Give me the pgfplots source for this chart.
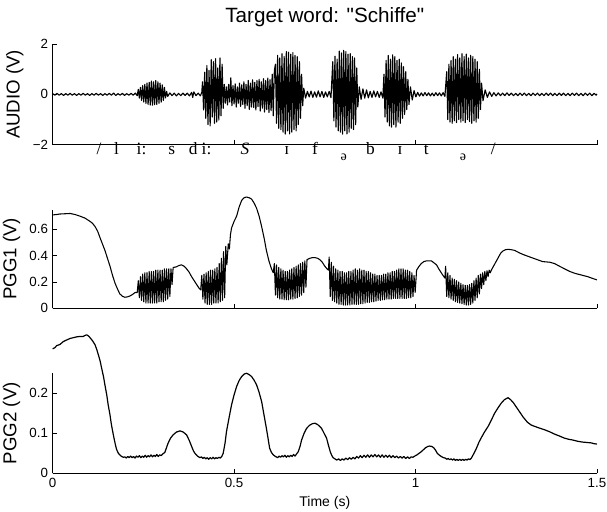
\documentclass[border=0pt]{standalone}
\usepackage{fontspec}
\setmainfont{Liberation Sans}
\newfontfamily\titlefont{Liberation Sans}
\newfontfamily\ipafont{Liberation Serif}
\usepackage{pgfplots}
\pgfplotsset{compat=1.18}

% 1 px of the reference = 0.75pt
\pgfplotsset{
  matlab/.style={
    scale only axis, width=408.2pt,
    axis x line=bottom, axis y line=left, axis line style={-, black, line width=0.5pt},
    tick align=inside, major tick length=3.5pt,
    tick style={black, line width=0.5pt},
    xmin=0, xmax=1.5, xtick={0,0.5,1,1.5},
    tick label style={font=\fontsize{10}{12}\selectfont},
    ylabel style={font=\fontsize{14}{16}\selectfont},
    xlabel style={font=\fontsize{10.5}{12}\selectfont},
    clip=false,
  },
  trace/.style={black, line width=0.8pt, line join=round, mark=none},
}
\tikzset{
  ipa/.style={anchor=base, font=\ipafont\fontsize{13}{15}\selectfont, inner sep=0pt},
  ipasmall/.style={anchor=base, font=\ipafont\fontsize{10.5}{12}\selectfont, inner sep=0pt},
}

\begin{document}
\begin{tikzpicture}
\path[use as bounding box] (0,0) rectangle (455.25pt,383.25pt);

% ---------------- AUDIO ----------------
\begin{axis}[matlab, at={(39.5pt,274.7pt)}, anchor=south west, height=75.5pt,
  ymin=-2, ymax=2, ytick={-2,0,2}, yticklabels={−2,0,2}, xticklabels={},
  ylabel={AUDIO (V)},
  title={Target word: "Schiffe"},
  title style={font=\titlefont\fontsize{15.5}{18}\selectfont, at={(0.5,1)}, anchor=base, yshift=10pt}]
\addplot[trace, line width=0.85pt] coordinates {
(0.000,0.03)(0.006,-0.03)(0.012,0.04)(0.018,-0.03)(0.024,0.03)(0.030,-0.04)(0.036,0.03)(0.042,-0.03)(0.048,0.04)(0.054,-0.03)(0.060,0.03)(0.066,-0.04)(0.072,0.03)(0.078,-0.03)(0.084,0.04)(0.090,-0.03)(0.096,0.03)(0.102,-0.04)(0.108,0.03)(0.114,-0.03)(0.120,0.04)(0.126,-0.03)(0.132,0.03)(0.138,-0.04)(0.144,0.03)(0.150,-0.03)(0.156,0.04)(0.162,-0.03)(0.168,0.05)(0.174,-0.04)(0.180,0.03)(0.186,-0.03)(0.192,0.04)(0.198,-0.04)(0.204,0.03)(0.210,-0.03)(0.216,0.04)(0.222,-0.03)(0.228,0.05)(0.233,-0.05)
(0.236,0.20)(0.239,-0.15)(0.242,0.28)(0.245,-0.24)(0.248,0.35)(0.251,-0.30)(0.254,0.40)(0.257,-0.36)(0.260,0.45)(0.263,-0.40)(0.266,0.48)(0.269,-0.42)(0.272,0.53)(0.275,-0.43)(0.278,0.50)(0.281,-0.41)(0.284,0.55)(0.287,-0.40)(0.290,0.50)(0.293,-0.35)(0.296,0.45)(0.299,-0.31)(0.302,0.38)(0.305,-0.24)(0.308,0.28)(0.311,-0.14)(0.314,0.12)
(0.317,-0.08)(0.323,0.06)(0.329,-0.05)(0.335,0.05)(0.341,-0.06)(0.347,0.04)(0.353,-0.05)(0.359,0.05)(0.365,-0.04)(0.371,0.05)(0.377,-0.06)(0.383,0.08)(0.386,-0.12)(0.389,0.10)(0.395,-0.05)(0.401,0.05)(0.407,-0.06)(0.411,0.08)
(0.413,0.50)(0.416,-0.62)(0.419,0.88)(0.422,-0.95)(0.425,1.15)(0.428,-1.20)(0.431,0.95)(0.434,-1.25)(0.437,1.38)(0.440,-0.90)(0.443,1.30)(0.446,-1.15)(0.449,1.42)(0.452,-1.10)(0.455,1.05)(0.458,-1.02)(0.461,1.45)(0.464,-0.85)(0.467,1.20)(0.470,-0.55)(0.473,0.40)
(0.476,-0.35)(0.479,0.30)(0.482,-0.42)(0.485,0.40)(0.488,-0.30)(0.491,0.66)(0.494,-0.45)(0.497,0.35)(0.500,-0.38)(0.503,0.42)(0.506,-0.50)(0.509,0.30)(0.512,-0.35)(0.515,0.45)(0.518,-0.48)(0.521,0.38)(0.524,-0.40)(0.527,0.50)(0.530,-0.55)(0.533,0.40)(0.536,-0.45)(0.539,0.55)(0.542,-0.60)(0.545,0.45)(0.548,-0.50)(0.551,0.58)(0.554,-0.52)(0.557,0.48)(0.560,-0.62)(0.563,0.55)(0.566,-0.48)(0.569,0.60)(0.572,-0.66)(0.575,0.50)(0.578,-0.55)(0.581,0.62)(0.584,-0.70)(0.587,0.55)(0.590,-0.60)(0.593,0.65)(0.596,-0.72)(0.599,0.58)(0.602,-0.65)(0.605,0.80)(0.608,-0.85)(0.611,0.95)
(0.614,1.20)(0.617,-1.15)(0.620,1.55)(0.623,-1.35)(0.626,1.45)(0.629,-1.40)(0.632,1.62)(0.635,-1.50)(0.638,1.50)(0.641,-1.58)(0.644,1.70)(0.647,-1.45)(0.650,1.68)(0.653,-1.57)(0.656,1.60)(0.659,-1.50)(0.662,1.66)(0.665,-1.40)(0.668,1.55)(0.671,-1.45)(0.674,1.50)(0.677,-1.20)(0.680,1.30)(0.683,-0.95)(0.686,0.80)(0.689,-0.45)
(0.692,0.25)(0.697,-0.15)(0.702,0.12)(0.707,-0.10)(0.712,0.13)(0.717,-0.12)(0.722,0.10)(0.727,-0.11)(0.732,0.14)(0.737,-0.10)(0.742,0.12)(0.747,-0.12)(0.752,0.10)(0.757,-0.10)(0.762,0.12)(0.767,-0.13)
(0.772,1.30)(0.775,-1.05)(0.778,1.52)(0.781,-1.30)(0.784,1.40)(0.787,-1.45)(0.790,1.72)(0.793,-1.50)(0.796,1.65)(0.799,-1.58)(0.802,1.75)(0.805,-1.45)(0.808,1.70)(0.811,-1.57)(0.814,1.60)(0.817,-1.50)(0.820,1.62)(0.823,-1.35)(0.826,1.50)(0.829,-1.40)(0.832,1.45)(0.835,-1.20)(0.838,1.05)(0.841,-0.50)
(0.845,0.30)(0.850,-0.20)(0.855,0.22)(0.860,-0.15)(0.865,0.18)(0.870,-0.14)(0.875,0.12)(0.880,-0.12)(0.885,0.14)(0.890,-0.10)(0.895,0.12)(0.900,-0.12)(0.905,0.10)(0.910,-0.15)
(0.913,0.80)(0.916,-0.90)(0.919,1.35)(0.922,-1.10)(0.925,1.55)(0.928,-1.25)(0.931,1.40)(0.934,-1.30)(0.937,1.57)(0.940,-1.20)(0.943,1.50)(0.946,-1.30)(0.949,1.35)(0.952,-1.10)(0.955,1.40)(0.958,-1.15)(0.961,1.25)(0.964,-0.95)(0.967,1.10)(0.970,-0.80)(0.973,0.90)(0.976,-0.60)(0.979,0.60)(0.982,-0.40)
(0.986,0.30)(0.991,-0.22)(0.996,0.15)(1.001,-0.10)(1.006,0.08)(1.011,-0.07)(1.016,0.06)(1.021,-0.06)(1.026,0.07)(1.031,-0.05)(1.036,0.06)(1.041,-0.06)(1.046,0.05)(1.051,-0.06)(1.056,0.07)(1.061,-0.05)(1.066,0.06)(1.071,-0.06)(1.076,0.07)(1.081,-0.08)
(1.086,0.90)(1.089,-1.00)(1.092,1.20)(1.095,-1.10)(1.098,1.35)(1.101,-1.15)(1.104,1.50)(1.107,-1.05)(1.110,1.40)(1.113,-1.12)(1.116,1.58)(1.119,-1.00)(1.122,1.45)(1.125,-1.10)(1.128,1.62)(1.131,-1.05)(1.134,1.50)(1.137,-1.12)(1.140,1.60)(1.143,-1.00)(1.146,1.45)(1.149,-1.08)(1.152,1.55)(1.155,-1.15)(1.158,1.50)(1.161,-1.05)(1.164,1.40)(1.167,-1.10)(1.170,1.30)(1.173,-0.95)(1.176,1.00)(1.179,-0.60)(1.182,0.45)
(1.186,-0.25)(1.192,0.18)(1.198,-0.12)(1.204,0.10)(1.210,-0.08)(1.216,0.07)(1.222,-0.06)(1.228,0.06)(1.234,-0.05)(1.240,0.05)(1.246,-0.05)(1.252,0.06)(1.258,-0.04)(1.264,0.05)(1.270,-0.05)(1.276,0.04)(1.282,-0.05)(1.288,0.05)(1.294,-0.04)(1.300,0.05)(1.306,-0.05)(1.312,0.04)(1.318,-0.05)(1.324,0.05)(1.330,-0.04)(1.336,0.05)(1.342,-0.05)(1.348,0.04)(1.354,-0.05)(1.360,0.05)(1.366,-0.04)(1.372,0.05)(1.378,-0.05)(1.384,0.04)(1.390,-0.05)(1.396,0.05)(1.402,-0.04)(1.408,0.05)(1.414,-0.05)(1.420,0.04)(1.426,-0.05)(1.432,0.05)(1.438,-0.04)(1.444,0.05)(1.450,-0.05)(1.456,0.04)(1.462,-0.05)(1.468,0.05)(1.474,-0.04)(1.480,0.05)(1.486,-0.05)(1.492,0.04)(1.498,-0.03)(1.500,0.02)
};
% phonetic transcription under the waveform
\node[ipa] at (axis cs:0.128,-2.37) {/};
\node[ipa] at (axis cs:0.176,-2.37) {l};
\node[ipa] at (axis cs:0.245,-2.37) {i:};
\node[ipa] at (axis cs:0.328,-2.37) {s};
\node[ipa] at (axis cs:0.387,-2.37) {d};
\node[ipa] at (axis cs:0.424,-2.37) {i:};
\node[ipa] at (axis cs:0.530,-2.37) {\itshape S};
\node[ipa] at (axis cs:0.645,-2.37) {ɪ};
\node[ipa] at (axis cs:0.723,-2.37) {f};
\node[ipasmall] at (axis cs:0.802,-2.62) {ə};
\node[ipa] at (axis cs:0.876,-2.37) {b};
\node[ipa] at (axis cs:0.957,-2.37) {ɪ};
\node[ipa] at (axis cs:1.030,-2.37) {t};
\node[ipasmall] at (axis cs:1.131,-2.62) {ə};
\node[ipa] at (axis cs:1.214,-2.37) {/};
\end{axis}

% ---------------- PGG1 ----------------
\begin{axis}[matlab, at={(39.5pt,152.0pt)}, anchor=south west, height=74.1pt,
  ymin=0, ymax=0.75, ytick={0,0.2,0.4,0.6}, yticklabels={0,0.2,0.4,0.6}, xticklabels={},
  ylabel={PGG1 (V)}]
\addplot[trace] coordinates {
(0.000,0.709)(0.010,0.712)(0.020,0.716)(0.034,0.718)(0.048,0.72)(0.062,0.712)(0.075,0.70)(0.089,0.685)(0.103,0.66)(0.110,0.645)(0.117,0.62)(0.124,0.585)(0.130,0.54)(0.137,0.49)(0.144,0.44)(0.151,0.38)(0.158,0.32)(0.165,0.25)(0.172,0.19)(0.179,0.145)(0.185,0.11)(0.192,0.092)(0.199,0.084)(0.206,0.087)(0.213,0.094)(0.220,0.105)(0.227,0.12)
(0.233,0.12)(0.236,0.21)(0.239,0.08)(0.242,0.24)(0.245,0.06)(0.248,0.26)(0.251,0.05)(0.254,0.27)(0.257,0.04)(0.260,0.27)(0.263,0.04)(0.266,0.28)(0.269,0.04)(0.272,0.28)(0.275,0.04)(0.278,0.28)(0.281,0.04)(0.284,0.29)(0.287,0.04)(0.290,0.29)(0.293,0.05)(0.296,0.29)(0.299,0.05)(0.302,0.29)(0.305,0.05)(0.308,0.30)(0.311,0.06)(0.314,0.30)(0.317,0.07)(0.320,0.30)(0.323,0.09)(0.326,0.30)(0.329,0.18)(0.332,0.31)
(0.341,0.315)(0.348,0.325)(0.355,0.33)(0.362,0.32)(0.369,0.30)(0.376,0.275)(0.383,0.24)(0.390,0.21)(0.397,0.18)(0.403,0.155)(0.408,0.14)
(0.411,0.25)(0.414,0.07)(0.417,0.26)(0.420,0.04)(0.423,0.27)(0.426,0.03)(0.429,0.28)(0.432,0.03)(0.435,0.29)(0.438,0.03)(0.441,0.29)(0.444,0.04)(0.447,0.30)(0.450,0.04)(0.453,0.31)(0.456,0.04)(0.459,0.34)(0.462,0.05)(0.465,0.38)(0.468,0.06)(0.471,0.43)(0.474,0.08)(0.477,0.47)(0.480,0.33)
(0.484,0.49)(0.487,0.45)(0.490,0.56)(0.493,0.61)(0.500,0.66)(0.507,0.70)(0.514,0.77)(0.521,0.82)(0.528,0.84)(0.534,0.845)(0.541,0.84)(0.548,0.83)(0.555,0.80)(0.562,0.76)(0.569,0.70)(0.576,0.62)(0.583,0.53)(0.589,0.44)(0.596,0.36)(0.603,0.30)(0.608,0.27)
(0.611,0.34)(0.614,0.10)(0.617,0.33)(0.620,0.08)(0.623,0.31)(0.626,0.07)(0.629,0.30)(0.632,0.07)(0.635,0.29)(0.638,0.065)(0.641,0.28)(0.644,0.065)(0.647,0.28)(0.650,0.065)(0.653,0.29)(0.656,0.07)(0.659,0.30)(0.662,0.07)(0.665,0.31)(0.668,0.075)(0.671,0.32)(0.674,0.08)(0.677,0.33)(0.680,0.09)(0.683,0.34)(0.686,0.10)(0.689,0.35)(0.692,0.12)(0.695,0.36)(0.698,0.16)(0.701,0.37)
(0.709,0.38)(0.716,0.385)(0.723,0.385)(0.730,0.38)(0.736,0.37)(0.743,0.35)(0.750,0.32)(0.756,0.30)(0.760,0.29)
(0.762,0.39)(0.765,0.09)(0.768,0.35)(0.771,0.06)(0.774,0.32)(0.777,0.05)(0.780,0.30)(0.783,0.04)(0.786,0.29)(0.789,0.03)(0.792,0.28)(0.795,0.03)(0.798,0.28)(0.801,0.025)(0.804,0.27)(0.807,0.025)(0.810,0.27)(0.813,0.025)(0.816,0.28)(0.819,0.025)(0.822,0.28)(0.825,0.03)(0.828,0.29)(0.831,0.03)(0.834,0.30)(0.837,0.03)(0.840,0.29)(0.843,0.03)(0.846,0.30)(0.849,0.035)(0.852,0.29)(0.855,0.035)(0.858,0.29)(0.861,0.04)(0.864,0.28)(0.867,0.045)(0.870,0.28)(0.873,0.045)(0.876,0.27)(0.879,0.05)(0.882,0.26)(0.885,0.05)(0.888,0.26)(0.891,0.055)(0.894,0.25)(0.897,0.06)(0.900,0.25)(0.903,0.06)(0.906,0.25)(0.909,0.065)(0.912,0.26)(0.915,0.065)(0.918,0.26)(0.921,0.07)(0.924,0.27)(0.927,0.07)(0.930,0.27)(0.933,0.07)(0.936,0.28)(0.939,0.075)(0.942,0.28)(0.945,0.075)(0.948,0.29)(0.951,0.075)(0.954,0.30)(0.957,0.075)(0.960,0.30)(0.963,0.075)(0.966,0.30)(0.969,0.075)(0.972,0.29)(0.975,0.075)(0.978,0.29)(0.981,0.08)(0.984,0.28)(0.987,0.08)(0.990,0.27)(0.993,0.09)(0.996,0.25)(0.999,0.12)
(1.003,0.29)(1.010,0.32)(1.016,0.34)(1.023,0.355)(1.030,0.36)(1.037,0.36)(1.044,0.36)(1.051,0.345)(1.058,0.33)(1.064,0.30)(1.071,0.27)(1.077,0.245)(1.081,0.23)
(1.083,0.32)(1.086,0.09)(1.089,0.27)(1.092,0.08)(1.095,0.25)(1.098,0.07)(1.101,0.23)(1.104,0.06)(1.107,0.22)(1.110,0.05)(1.113,0.21)(1.116,0.045)(1.119,0.20)(1.122,0.04)(1.125,0.19)(1.128,0.035)(1.131,0.18)(1.134,0.03)(1.137,0.175)(1.140,0.025)(1.143,0.175)(1.146,0.025)(1.149,0.18)(1.152,0.03)(1.155,0.19)(1.158,0.04)(1.161,0.21)(1.164,0.06)(1.167,0.23)(1.170,0.08)(1.173,0.25)(1.176,0.11)(1.179,0.26)(1.182,0.15)(1.185,0.27)(1.188,0.18)(1.191,0.28)(1.194,0.21)(1.197,0.285)(1.200,0.24)(1.203,0.29)(1.206,0.27)
(1.209,0.29)(1.215,0.32)(1.222,0.355)(1.229,0.39)(1.235,0.42)(1.241,0.435)(1.248,0.445)(1.255,0.448)(1.264,0.445)(1.273,0.44)(1.287,0.42)(1.300,0.405)(1.315,0.39)(1.330,0.375)(1.350,0.355)(1.370,0.35)(1.383,0.34)(1.400,0.315)(1.425,0.28)(1.440,0.265)(1.457,0.253)(1.475,0.24)(1.490,0.225)(1.500,0.216)
};
\end{axis}

% ---------------- PGG2 ----------------
\begin{axis}[matlab, at={(39.5pt,28.3pt)}, anchor=south west, height=75pt,
  ymin=0, ymax=0.25, ytick={0,0.1,0.2}, yticklabels={0,0.1,0.2},
  xticklabels={0,0.5,1,1.5},
  ylabel={PGG2 (V)}, xlabel={Time (s)}]
\addplot[trace, line width=0.9pt] coordinates {
(0.000,0.311)(0.006,0.314)(0.011,0.319)(0.020,0.322)(0.029,0.329)(0.038,0.333)(0.048,0.337)(0.057,0.339)(0.066,0.341)(0.075,0.342)(0.084,0.342)(0.090,0.345)(0.094,0.346)(0.099,0.343)(0.103,0.339)(0.110,0.331)(0.117,0.321)(0.122,0.308)(0.126,0.296)(0.131,0.28)(0.135,0.2625)(0.140,0.242)(0.144,0.221)(0.149,0.196)(0.153,0.171)(0.158,0.146)(0.162,0.121)(0.167,0.097)(0.172,0.075)(0.176,0.06)(0.181,0.05)(0.186,0.045)(0.190,0.042)(0.195,0.040)
(0.199,0.041)(0.203,0.038)(0.207,0.042)(0.211,0.039)(0.215,0.043)(0.219,0.039)(0.223,0.042)(0.227,0.038)(0.231,0.043)(0.235,0.040)(0.239,0.044)(0.243,0.039)(0.247,0.043)(0.251,0.040)(0.255,0.045)(0.259,0.040)(0.263,0.044)(0.267,0.041)(0.271,0.046)(0.275,0.041)(0.279,0.045)(0.283,0.042)(0.287,0.047)(0.291,0.042)(0.295,0.046)(0.299,0.044)(0.303,0.048)
(0.309,0.052)(0.313,0.062)(0.318,0.075)(0.325,0.088)(0.332,0.096)(0.341,0.103)(0.351,0.106)(0.360,0.103)(0.369,0.096)(0.376,0.083)(0.383,0.067)(0.388,0.056)(0.392,0.050)(0.399,0.043)(0.406,0.039)
(0.410,0.041)(0.414,0.037)(0.418,0.040)(0.422,0.036)(0.426,0.039)(0.430,0.035)(0.434,0.039)(0.438,0.036)(0.442,0.040)(0.446,0.036)(0.450,0.039)(0.454,0.037)(0.458,0.040)(0.462,0.038)(0.466,0.042)
(0.470,0.050)(0.475,0.075)(0.479,0.104)(0.486,0.138)(0.493,0.171)(0.500,0.196)(0.507,0.217)(0.514,0.232)(0.521,0.242)(0.528,0.248)(0.534,0.250)(0.541,0.247)(0.548,0.242)(0.555,0.233)(0.562,0.221)(0.569,0.202)(0.576,0.179)(0.582,0.148)(0.589,0.1125)(0.594,0.085)(0.598,0.0625)(0.603,0.052)(0.608,0.046)(0.614,0.042)(0.620,0.039)
(0.624,0.043)(0.628,0.040)(0.632,0.044)(0.636,0.041)(0.640,0.045)(0.644,0.040)(0.648,0.044)(0.652,0.041)(0.656,0.045)(0.660,0.042)(0.664,0.047)(0.668,0.043)(0.672,0.048)(0.677,0.054)
(0.682,0.068)(0.686,0.083)(0.693,0.100)(0.700,0.1125)(0.708,0.120)(0.716,0.124)(0.723,0.125)(0.730,0.122)(0.736,0.117)(0.741,0.1125)(0.748,0.100)(0.755,0.0875)(0.760,0.070)(0.765,0.054)(0.769,0.045)(0.773,0.039)
(0.778,0.036)(0.783,0.033)(0.788,0.036)(0.793,0.032)(0.798,0.036)(0.803,0.033)(0.808,0.038)(0.813,0.034)(0.818,0.039)(0.823,0.035)(0.828,0.040)(0.833,0.036)(0.838,0.042)(0.843,0.038)(0.848,0.044)(0.853,0.039)(0.858,0.045)(0.863,0.040)(0.868,0.046)(0.873,0.040)(0.878,0.046)(0.883,0.041)(0.888,0.047)(0.893,0.041)(0.898,0.046)(0.903,0.040)(0.908,0.046)(0.913,0.040)(0.918,0.045)(0.923,0.040)(0.928,0.045)(0.933,0.039)(0.938,0.044)(0.943,0.039)(0.948,0.043)(0.953,0.038)(0.958,0.042)(0.963,0.038)(0.968,0.042)(0.973,0.037)(0.978,0.041)(0.983,0.037)(0.988,0.041)(0.993,0.040)
(0.998,0.043)(1.004,0.046)(1.010,0.050)(1.016,0.054)(1.022,0.059)(1.028,0.064)(1.034,0.067)(1.039,0.068)(1.045,0.067)(1.050,0.064)(1.055,0.058)(1.060,0.050)(1.066,0.045)(1.071,0.042)(1.077,0.039)
(1.082,0.038)(1.086,0.035)(1.090,0.037)(1.094,0.034)(1.098,0.036)(1.102,0.033)(1.106,0.036)(1.110,0.032)(1.114,0.035)(1.118,0.032)(1.122,0.035)(1.126,0.032)(1.130,0.035)(1.134,0.032)(1.138,0.035)(1.142,0.033)(1.146,0.036)(1.150,0.034)(1.154,0.038)
(1.160,0.048)(1.164,0.055)(1.168,0.0625)(1.175,0.078)(1.182,0.090)(1.190,0.103)(1.200,0.117)(1.209,0.133)(1.218,0.150)(1.227,0.163)(1.236,0.175)(1.245,0.184)(1.255,0.189)(1.262,0.184)(1.270,0.176)(1.279,0.164)(1.288,0.152)(1.297,0.140)(1.308,0.128)(1.318,0.121)(1.329,0.117)(1.343,0.1125)(1.355,0.109)(1.369,0.104)(1.383,0.098)(1.397,0.093)(1.410,0.088)(1.422,0.085)(1.434,0.083)(1.447,0.080)(1.460,0.078)(1.472,0.077)(1.484,0.076)(1.492,0.074)(1.500,0.073)
};
\end{axis}
\end{tikzpicture}
\end{document}
